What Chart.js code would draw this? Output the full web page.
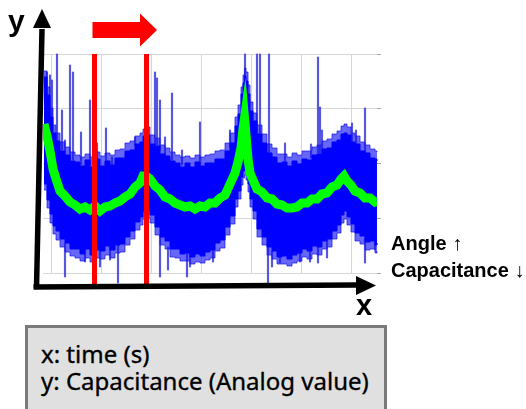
<!DOCTYPE html>
<html><head><meta charset="utf-8">
<script src="https://cdn.jsdelivr.net/npm/chart.js@4"></script>
<style>
html,body{margin:0;padding:0;background:#fff;}
#wrap{position:relative;width:526px;height:409px;overflow:hidden;background:#fff;}
#c{position:absolute;left:0;top:0;}
.lbl{position:absolute;font-family:"Liberation Sans",Arial,sans-serif;font-weight:bold;color:#000;white-space:nowrap;}
.arr{font-weight:normal;}
#box{position:absolute;left:25px;top:325px;width:356px;height:100px;background:#e0e0e0;border:3px solid #7a7a7a;}
#boxtxt{position:absolute;left:41px;top:340px;font-family:"Noto Sans",sans-serif;font-size:24px;line-height:27px;color:#000;white-space:nowrap;-webkit-text-stroke:0.35px #000;}
</style></head>
<body><div id="wrap">
<canvas id="c" width="526" height="409"></canvas>
<div class="lbl" style="left:8px;top:6px;font-size:30px;line-height:30px;">y</div>
<div class="lbl" style="left:356px;top:291px;font-size:29px;line-height:29px;">x</div>
<div class="lbl" style="left:391px;top:233px;font-size:20px;line-height:20px;">Angle <span class="arr">↑</span></div>
<div class="lbl" style="left:391px;top:260px;font-size:20px;line-height:20px;">Capacitance <span class="arr">↓</span></div>
<div id="box"></div>
<div id="boxtxt">x: time (s)<br>y: Capacitance (Analog value)</div>
</div>
<script>
// time axis samples
const timeX = [2,8,14,20,26,34,44,54,64,74, 84,94,104,114,124,134,144,154,164,174, 184,194,200,206,214,224,234,244,254,264, 274,284,294,304,314,324,334,344,354,364, 374,384,390,396,400,403,406,410,414,420, 428,438,448,458,468,478,488,498,508,518, 528,538,548,558,568,578,588,596,602,608, 616,624,634,644,654,664,668];
// smoothed (green) capacitance
const meanValue = [298,274,244,208,188,164,154,142,136,128, 132,126,134,124,132,134,140,144,152,158, 172,180,194,194,188,174,166,152,148,140, 136,132,134,128,134,132,140,140,150,156, 178,200,222,250,288,310,276,228,200,186, 168,162,150,148,138,136,130,130,132,140, 140,148,148,158,160,172,176,188,194,184, 176,164,160,150,150,142,144];
// raw (blue) signal: dense band envelope
const upperValue = [392,356,312,280,264,244,236,224,222,214, 226,212,228,214,224,216,230,230,244,246, 258,262,274,276,258,254,238,234,224,220, 212,220,212,222,214,220,220,228,228,244, 260,294,318,358,380,394,384,358,324,304, 278,260,240,232,220,222,214,224,218,228, 226,236,238,248,250,262,266,278,280,276, 262,258,244,240,230,228,224];
const lowerValue = [178,146,118,94,84,68,60,48,48,38, 48,36,46,44,54,46,56,58,72,84, 102,112,124,126,116,92,72,64,48,48, 38,40,32,38,34,42,46,60,66,92, 114,148,164,192,204,212,200,178,148,124, 88,72,52,44,32,34,28,36,40,48, 44,54,52,64,68,84,96,116,124,112, 98,80,74,62,64,56,60];
// raw signal: sparse fringe envelope
const fringeUpper = [404,372,330,296,280,262,252,242,236,232, 238,232,242,234,240,236,246,248,260,264, 274,280,288,292,276,270,256,250,242,236, 232,234,230,236,232,236,238,244,246,260, 280,312,336,372,396,410,402,376,342,320, 296,278,258,250,238,238,232,240,236,244, 244,252,256,264,268,278,284,294,298,292, 280,274,262,256,248,244,242];
const fringeLower = [166,130,100,78,66,52,42,34,30,24, 30,22,30,28,36,30,40,42,56,68, 86,96,108,110,100,76,56,48,32,30, 24,24,18,22,20,26,30,44,50,76, 98,132,148,176,190,196,186,162,132,108, 72,56,36,28,18,18,14,20,24,32, 28,38,36,48,52,68,80,100,108,96, 82,64,58,46,48,40,44];
// raw signal spikes
const spikeX    = [8,14,18,28,38,44,54,60,76,94,108,126,138,184,224,228,234,244,258,278,314,374,404,428,434,452,484,536,550,554,558,618,626,644, 44,84,114,134,150,234,250,288,294,340,450,458,474,514,534,550,568,644,664];
const spikeLow  = [326,306,286,256,246,230,226,226,216,216,216,216,216,256,256,256,246,236,226,216,216,252,386,280,266,240,220,230,240,240,242,256,256,236, -8,22,12,26,-20,-8,6,-8,12,22,-20,12,20,22,22,20,30,20,46];
const spikeHigh = [402,396,386,438,326,266,416,402,282,346,260,290,232,272,402,390,346,272,360,246,302,286,438,438,438,438,260,258,432,332,286,300,286,330, 60,50,52,56,64,76,52,40,40,56,60,44,40,44,52,56,66,70,62];
// moving window markers
const markerX = [103, 207];
const xGridTicks = [66,166,266,366,466,566,666];
const yGridTicks = [0,109.5,219,328.5,438];

const pts = ys => timeX.map((x,i)=>({x:x, y:ys[i]}));
const gridTicks = arr => (s => { s.ticks = arr.map(v => ({value:v})); });

const decor = {
  id:'decor',
  afterDraw(chart){
    const {ctx, chartArea:ca, scales:{x}} = chart;
    ctx.save();
    // red arrow
    const ax0 = x.getPixelForValue(markerX[0]) - 2;
    const tip = x.getPixelForValue(markerX[1]) + 10.5;
    const hb = tip - 17;
    const ay = ca.top - 24;
    ctx.fillStyle = '#ff0000';
    ctx.beginPath();
    ctx.moveTo(ax0, ay-8); ctx.lineTo(hb, ay-8); ctx.lineTo(hb, ay-16.5);
    ctx.lineTo(tip, ay); ctx.lineTo(hb, ay+16.5); ctx.lineTo(hb, ay+8);
    ctx.lineTo(ax0, ay+8); ctx.closePath(); ctx.fill();
    // black axes
    ctx.fillStyle = '#000'; ctx.strokeStyle = '#000'; ctx.lineWidth = 5.5; ctx.lineCap = 'butt';
    const xb = ca.left - 6.5, yb = ca.bottom + 15;
    const xt = ca.left - 1, yt = ca.top - 26;
    ctx.beginPath(); ctx.moveTo(xb, yb); ctx.lineTo(xt, yt + 1); ctx.stroke();
    ctx.beginPath(); ctx.moveTo(xt, ca.top - 45); ctx.lineTo(xt + 9, yt); ctx.lineTo(xt - 9, yt); ctx.closePath(); ctx.fill();
    const hx = ca.right - 21;
    ctx.beginPath(); ctx.moveTo(ca.left - 9.5, ca.bottom + 14); ctx.lineTo(hx + 1, ca.bottom + 12); ctx.stroke();
    ctx.beginPath(); ctx.moveTo(ca.right - 1, ca.bottom + 12.5); ctx.lineTo(hx, ca.bottom + 3); ctx.lineTo(hx, ca.bottom + 22); ctx.closePath(); ctx.fill();
    ctx.restore();
  }
};

new Chart(document.getElementById('c'), {
  type:'line',
  data:{datasets:[
    {type:'bar', data: spikeX.map((x,i)=>({x:x, y:[spikeLow[i], spikeHigh[i]]})), backgroundColor:'rgba(45,45,215,0.8)', barThickness:1.5, grouped:false, order:6, clip:false},
    {data: pts(fringeLower), borderColor:'rgba(20,20,240,0.7)', borderWidth:1, pointRadius:0, stepped:true, fill:false, order:5, clip:false},
    {data: pts(fringeUpper), borderColor:'rgba(20,20,240,0.7)', borderWidth:1, backgroundColor:'rgba(20,20,245,0.65)', pointRadius:0, stepped:true, fill:1, order:5, clip:false},
    {data: pts(lowerValue), borderColor:'#0000ff', borderWidth:1, pointRadius:0, stepped:true, fill:false, order:4, clip:false},
    {data: pts(upperValue), borderColor:'#0000ff', borderWidth:1, backgroundColor:'#0000ff', pointRadius:0, stepped:true, fill:3, order:4, clip:false},
    {data: pts(meanValue), borderColor:'#00ff00', borderWidth:9, pointRadius:0, tension:0, fill:false, order:2},
    ...markerX.map(m => ({data:[{x:m, y:-22},{x:m, y:438}], borderColor:'#ff0000', borderWidth:5, pointRadius:0, fill:false, order:1, clip:false}))
  ]},
  options:{
    responsive:false, animation:false, events:[],
    layout:{padding:{left:43, right:145, top:54, bottom:136}},
    plugins:{legend:{display:false}, tooltip:{enabled:false}},
    scales:{
      x:{type:'linear', min:0, max:668, offset:false, afterBuildTicks:gridTicks(xGridTicks), grid:{color:'#d6d6d6', lineWidth:1, drawTicks:false}, border:{display:false}, ticks:{display:false}},
      y:{type:'linear', min:0, max:438, afterBuildTicks:gridTicks(yGridTicks), grid:{color:'#d6d6d6', lineWidth:1, drawTicks:false}, border:{display:false}, ticks:{display:false}},
      y2:{type:'linear', position:'right', min:0, max:438, afterBuildTicks:gridTicks(yGridTicks), grid:{drawOnChartArea:false, drawTicks:true, tickLength:4, color:'#a8a8a8'}, border:{display:false}, ticks:{display:false}}
    }
  },
  plugins:[decor]
});
</script>
</body></html>
